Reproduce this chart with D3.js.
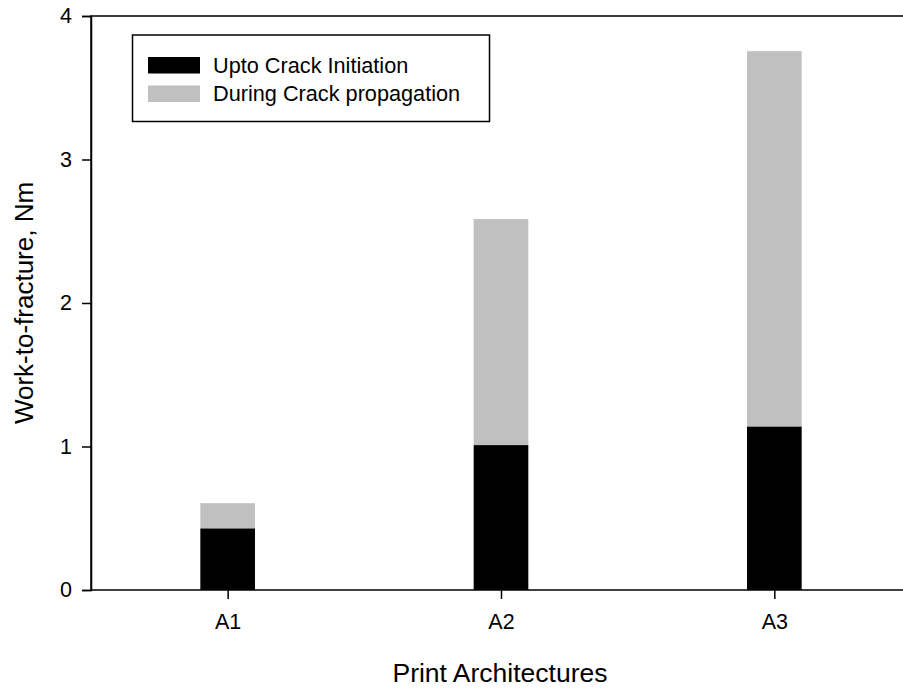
<!DOCTYPE html>
<html>
<head>
<meta charset="utf-8">
<script src="https://cdn.jsdelivr.net/npm/d3@7"></script>
<style>
  html, body { margin: 0; padding: 0; background: #fff; }
  svg { display: block; font-family: Arial, "Liberation Sans", sans-serif; }
</style>
</head>
<body>
<svg id="chart" width="903" height="688"></svg>
<script>
// Work-to-fracture split into the part up to crack initiation and the part during propagation
const categories = ["A1", "A2", "A3"];
const initiation = [0.43, 1.01, 1.14];
const propagation = [0.175, 1.575, 2.615];
const seriesNames = ["Upto Crack Initiation", "During Crack propagation"];
const seriesColors = ["#000000", "#c0c0c0"];
const yTicks = [0, 1, 2, 3, 4];

const svg = d3.select("#chart");
const plotL = 91, plotR = 911, plotT = 16, plotB = 590;

const x = d3.scalePoint().domain(categories).range([plotL, plotR]).padding(0.5);
const barW = x.step() * 0.2;
const y = d3.scaleLinear().domain([0, 4]).range([plotB, plotT]);

const rows = categories.map((c, i) => ({ cat: c, initiation: initiation[i], propagation: propagation[i] }));
const stacked = d3.stack().keys(["initiation", "propagation"])(rows);

// bars
svg.append("g").selectAll("g")
  .data(stacked)
  .join("g")
  .attr("fill", (d, i) => seriesColors[i])
  .selectAll("rect")
  .data(d => d)
  .join("rect")
  .attr("x", d => x(d.data.cat) - barW / 2)
  .attr("width", barW)
  .attr("y", d => y(d[1]))
  .attr("height", d => y(d[0]) - y(d[1]));

// frame
svg.append("rect")
  .attr("x", plotL).attr("y", plotT)
  .attr("width", plotR - plotL).attr("height", plotB - plotT)
  .attr("fill", "none").attr("stroke", "#000").attr("stroke-width", 1.5);

// y axis
const yAxis = svg.append("g")
  .attr("transform", `translate(${plotL},0)`)
  .call(d3.axisLeft(y).tickValues(yTicks).tickFormat(d3.format("d")).tickSize(9).tickPadding(10));
yAxis.select(".domain").attr("stroke-width", 1.5);
yAxis.selectAll(".tick line").attr("stroke-width", 1.5);
yAxis.selectAll("text").attr("font-size", 21.5).attr("fill", "#000").attr("font-family", "Arial, 'Liberation Sans', sans-serif");

// x axis
const xAxis = svg.append("g")
  .attr("transform", `translate(0,${plotB})`)
  .call(d3.axisBottom(x).tickSize(9).tickPadding(15));
xAxis.select(".domain").remove();
xAxis.selectAll(".tick line").attr("stroke-width", 1.5);
xAxis.selectAll("text").attr("font-size", 21.5).attr("fill", "#000").attr("font-family", "Arial, 'Liberation Sans', sans-serif");

// axis titles
svg.append("text")
  .attr("x", 500).attr("y", 682)
  .attr("text-anchor", "middle").attr("font-size", 26.5)
  .text("Print Architectures");
svg.append("text")
  .attr("transform", `translate(33,${(plotT + plotB) / 2}) rotate(-90)`)
  .attr("text-anchor", "middle").attr("font-size", 26)
  .text("Work-to-fracture, Nm");

// legend
const legend = svg.append("g");
legend.append("rect")
  .attr("x", 132.5).attr("y", 35)
  .attr("width", 357).attr("height", 86.5)
  .attr("fill", "#fff").attr("stroke", "#000").attr("stroke-width", 1.5);
seriesNames.forEach((name, i) => {
  legend.append("rect")
    .attr("x", 148).attr("y", 57 + i * 28.5)
    .attr("width", 52).attr("height", 16.5)
    .attr("fill", seriesColors[i]);
  legend.append("text")
    .attr("x", 213).attr("y", 72.5 + i * 28.5)
    .attr("font-size", 21.7)
    .text(name);
});
</script>
</body>
</html>
